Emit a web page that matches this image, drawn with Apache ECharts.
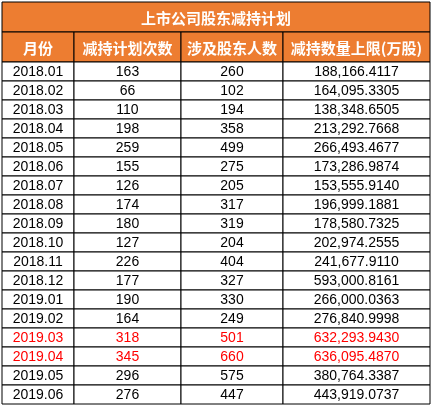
<!DOCTYPE html>
<html><head><meta charset="utf-8">
<script src="https://cdn.jsdelivr.net/npm/echarts@6/dist/echarts.min.js"></script>
<style>html,body{margin:0;padding:0;background:#fff}#c{width:433px;height:408px}</style>
</head><body><div id="c"></div>
<script>
const title = '上市公司股东减持计划';
const headers = ['月份','减持计划次数','涉及股东人数','减持数量上限(万股)'];
const months = ['2018.01','2018.02','2018.03','2018.04','2018.05','2018.06','2018.07','2018.08','2018.09','2018.10','2018.11','2018.12','2019.01','2019.02','2019.03','2019.04','2019.05','2019.06'];
const plans = [163,66,110,198,259,155,126,174,180,127,226,177,190,164,318,345,296,276];
const holders = [260,102,194,358,499,275,205,317,319,204,404,327,330,249,501,660,575,447];
const limits = ['188,166.4117','164,095.3305','138,348.6505','213,292.7668','266,493.4677','173,286.9874','153,555.9140','196,999.1881','178,580.7325','202,974.2555','241,677.9110','593,000.8161','266,000.0363','276,840.9998','632,293.9430','636,095.4870','380,764.3387','443,919.0737'];
const highlight = ['2019.03','2019.04'];

const colX = [2,74,181,283,430];
const top0 = 2, titleH = 30, headH = 30, rowH = 19;
const cells = [];
cells.push({value:[0,0,4,-2], text:title, kind:'title'});
headers.forEach((h,i)=>cells.push({value:[i,0,i+1,-1], text:h, kind:'head'}));
months.forEach((m,r)=>{
  const row=[m,String(plans[r]),String(holders[r]),limits[r]];
  row.forEach((t,i)=>cells.push({value:[i,r,i+1,r], text:t, kind:highlight.includes(m)?'red':'data'}));
});
function yOf(r){ if(r===-2) return [top0, top0+titleH]; if(r===-1) return [top0+titleH, top0+titleH+headH]; const y=top0+titleH+headH+r*rowH; return [y,y+rowH]; }
const chart = echarts.init(document.getElementById('c'));
chart.setOption({
  animation:false,
  grid:{left:0,right:0,top:0,bottom:0},
  xAxis:{type:'value',min:0,max:433,show:false},
  yAxis:{type:'value',min:0,max:408,inverse:true,show:false},
  series:[{type:'custom',data:cells,renderItem:function(params,api){
    const d=cells[params.dataIndex];
    const c0=api.value(0), c1=api.value(2), r=api.value(3);
    const [ya,yb]=yOf(r);
    const p0=api.coord([colX[c0],ya]), p1=api.coord([colX[c1],yb]);
    const orange=d.kind==='title'||d.kind==='head';
    const tc = orange?'#fff':(d.kind==='red'?'#ff0000':'#000');
    return {type:'group',children:[
      {type:'rect',shape:{x:p0[0],y:p0[1],width:p1[0]-p0[0],height:p1[1]-p0[1]},
       style:{fill:orange?'#ED7D31':'#fff',stroke:'#000',lineWidth:1}},
      {type:'text',style:{x:(p0[0]+p1[0])/2,y:(p0[1]+p1[1])/2+1,text:d.text,align:'center',verticalAlign:'middle',
        fill:tc,font:orange?'bold 15px "Noto Sans CJK SC"':'14px "Liberation Sans", Arial'}}
    ]};
  }}]
});
</script></body></html>
